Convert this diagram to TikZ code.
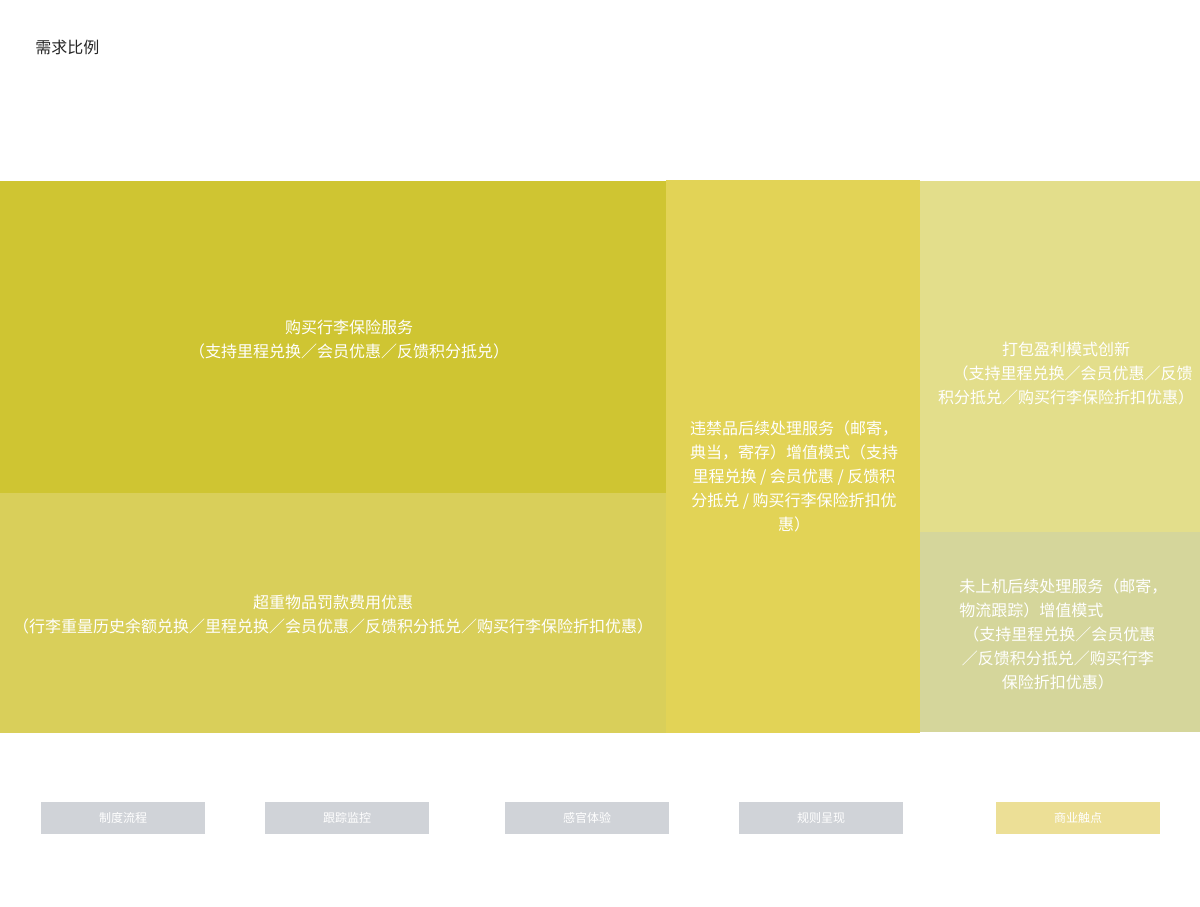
\documentclass[tikz,border=0pt]{standalone}
\usepackage{fontspec}
\setmainfont{Noto Sans CJK SC}
\usetikzlibrary{positioning}

\definecolor{blkA}{RGB}{207,197,50}
\definecolor{blkB}{RGB}{217,207,90}
\definecolor{blkC}{RGB}{226,211,86}
\definecolor{blkD}{RGB}{227,222,139}
\definecolor{blkE}{RGB}{213,214,155}
\definecolor{tabgray}{RGB}{208,211,216}
\definecolor{tabgold}{RGB}{236,223,150}

\begin{document}
\begin{tikzpicture}[
      x=0.75pt, y=-0.75pt,
      every node/.style={inner sep=0pt},
      blocktext/.style={text=white, align=center, font=\fontsize{12}{18}\selectfont},
      tab/.style={rectangle, minimum width=123pt, minimum height=24pt, text=white, font=\fontsize{9}{10}\selectfont},
      graytab/.style={tab, fill=tabgray},
      goldtab/.style={tab, fill=tabgold}
    ]
      \useasboundingbox[fill=white] (0,0) rectangle (1200,907);

      % Title
      \node[anchor=west, text=black!85, font=\fontsize{12}{14}\selectfont] (title) at (35,47) {需求比例};

      % Proportion blocks
      \fill[blkA] (0,181) rectangle (666,493);
      \fill[blkB] (0,493) rectangle (666,733);
      \fill[blkC] (666,180) rectangle (920,733);
      \fill[blkD] (920,181) rectangle (1200,532);
      \fill[blkE] (920,532) rectangle (1200,732);

      % Block texts
      \node[blocktext] (insure) at (349,339) {购买行李保险服务\\（支持里程兑换／会员优惠／反馈积分抵兑）};
      \node[blocktext] (overweight) at (333,615) {超重物品罚款费用优惠\\（行李重量历史余额兑换／里程兑换／会员优惠／反馈积分抵兑／购买行李保险折扣优惠）};
      \node[blocktext] (banned) at (794,476) {违禁品后续处理服务（邮寄，\\典当，寄存）增值模式（支持\\里程兑换 / 会员优惠 / 反馈积\\分抵兑 / 购买行李保险折扣优\\惠）};
      \node[blocktext] (bundle) at (1066,374) {打包盈利模式创新\\\hspace*{10pt}（支持里程兑换／会员优惠／反馈\\积分抵兑／购买行李保险折扣优惠）};
      \node[blocktext, align=left, anchor=west] (missed) at (959,634) {未上机后续处理服务（邮寄，\\物流跟踪）增值模式\\\hspace*{3pt}（支持里程兑换／会员优惠\\\hspace*{2pt}／反馈积分抵兑／购买行李\\\hspace*{32pt}保险折扣优惠）};

      % Bottom tabs
      \node[graytab] (process) at (123,818) {制度流程};
      \node[graytab] (track) at (347,818) {跟踪监控};
      \node[graytab] (sense) at (587,818) {感官体验};
      \node[graytab] (rules) at (821,818) {规则呈现};
      \node[goldtab] (business) at (1078,818) {商业触点};
    \end{tikzpicture}
\end{document}
